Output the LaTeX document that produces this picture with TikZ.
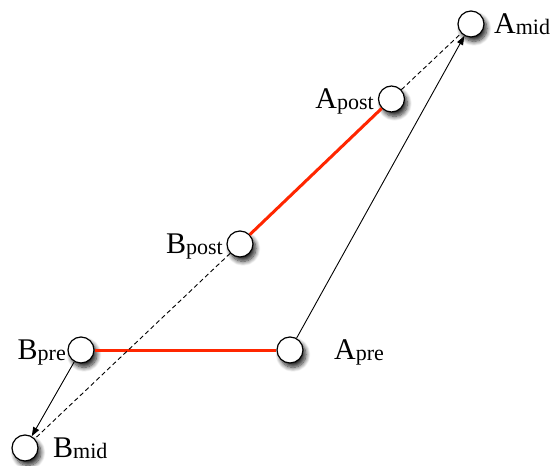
\documentclass[tikz,border=0pt]{standalone}
\usepackage{fontspec}
\setmainfont{Liberation Serif}
\usetikzlibrary{arrows.meta,shadows.blur,calc}
\definecolor{redline}{RGB}{255,38,0}
\tikzset{
 state/.style={circle, draw=black, line width=1.2pt, fill=white, minimum size=26pt, inner sep=0pt,
   blur shadow={shadow xshift=3pt, shadow yshift=-4.5pt, shadow blur steps=10, shadow blur radius=4.5pt, shadow opacity=85}},
 lbl/.style={inner sep=0pt},
 redge/.style={draw=redline, line width=3pt},
 arr/.style={draw=black, line width=0.9pt, -{Triangle[length=9pt,width=6.5pt]}},
 dsh/.style={draw=black, line width=0.9pt, dash pattern=on 4.5pt off 3pt},
}
\newcommand{\lab}[2]{{\fontsize{30}{30}\selectfont #1}\raisebox{-1.5pt}{\fontsize{22}{22}\selectfont #2}}
\begin{document}
\begin{tikzpicture}[x=1pt,y=-1pt]
\useasboundingbox (0,0) rectangle (550,466);
\node[state] (Amid) at (471,24) {};
\node[state] (Apost) at (391.5,99) {};
\node[state] (Bpost) at (240,244) {};
\node[state] (Bpre) at (81,350) {};
\node[state] (Apre) at (290,350) {};
\node[state] (Bmid) at (25,448) {};
\node[lbl, anchor=base west] (LAmid) at (494,33) {\lab{A}{mid}};
\node[lbl, anchor=base east] (LApost) at (374,108) {\lab{A}{post}};
\node[lbl, anchor=base east] (LBpost) at (223,253) {\lab{B}{post}};
\node[lbl, anchor=base east] (LBpre) at (66,359) {\lab{B}{pre}};
\node[lbl, anchor=base west] (LApre) at (334,359) {\lab{A}{pre}};
\node[lbl, anchor=base west] (LBmid) at (53,457) {\lab{B}{mid}};
\draw[redge] (Bpre) -- (Apre);
\draw[redge] (Bpost) -- (Apost);
\draw[arr] (Apre) -- (Amid);
\draw[arr] (Bpre) -- (Bmid);
\draw[dsh] (Apost) -- (Amid);
\draw[dsh] (Bpost) -- (Bmid);
\end{tikzpicture}
\end{document}
